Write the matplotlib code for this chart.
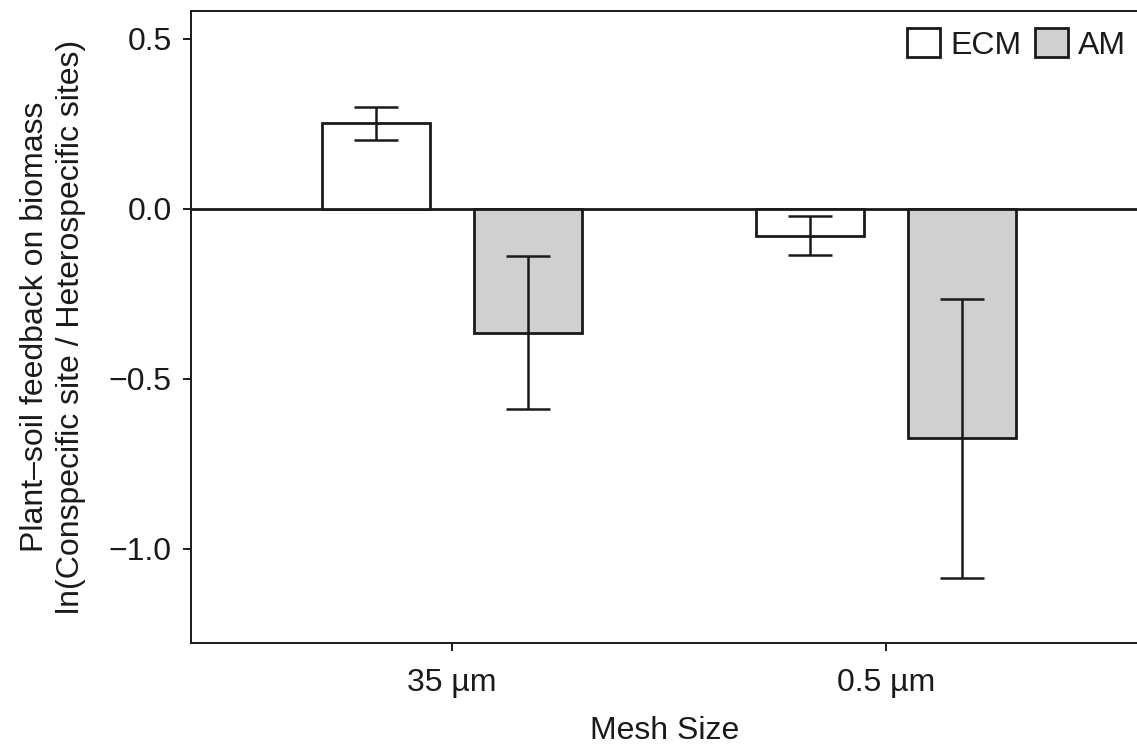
import matplotlib
matplotlib.use("Agg")
import matplotlib.pyplot as plt
import numpy as np

# values
mesh_sizes = ["35 \u00b5m", "0.5 \u00b5m"]
ecm_mean = [0.252, -0.079]
ecm_err = [0.048, 0.058]
am_mean = [-0.364, -0.674]
am_err = [0.225, 0.41]

plt.rcParams['font.family'] = ['Liberation Sans', 'DejaVu Sans']
txt = "#1a1a1a"
fs = 23

fig = plt.figure(figsize=(11.37, 7.46), dpi=100)
ax = fig.add_axes([0.1683, 0.1374, 0.8317, 0.8479])

x = np.arange(1, len(mesh_sizes) + 1)
w = 0.25
off = 0.175

ax.axhline(0, color=txt, lw=2.0, zorder=1)
ax.bar(x - off, ecm_mean, width=w, color="white", edgecolor=txt, linewidth=2.0,
       label="ECM", zorder=2)
ax.bar(x + off, am_mean, width=w, color="#d0d0d0", edgecolor=txt, linewidth=2.0,
       label="AM", zorder=2)
ax.errorbar(x - off, ecm_mean, yerr=ecm_err, fmt="none", ecolor=txt, elinewidth=1.8,
            capsize=15.8, capthick=1.8, zorder=3)
ax.errorbar(x + off, am_mean, yerr=am_err, fmt="none", ecolor=txt, elinewidth=1.8,
            capsize=15.8, capthick=1.8, zorder=3)

ax.set_xlim(0.40, 2.578)
ax.set_ylim(-1.278, 0.582)
ax.set_xticks(x)
ax.set_xticklabels(mesh_sizes)
ax.set_yticks([0.5, 0.0, -0.5, -1.0])
ax.set_yticklabels(["0.5", "0.0", "\u22120.5", "\u22121.0"])

for s in ["left", "bottom", "top"]:
    ax.spines[s].set_linewidth(1.4)
    ax.spines[s].set_color(txt)
ax.spines["right"].set_visible(False)
ax.tick_params(axis="both", direction="out", length=5.5, width=1.4, color=txt,
               labelsize=fs, labelcolor=txt)
ax.tick_params(axis="x", pad=12)
ax.tick_params(axis="y", pad=8.5)

ax.set_xlabel("Mesh Size", size=fs, color=txt)
ax.set_ylabel("Plant\u2013soil feedback on biomass\nln(Conspecific site / Heterospecific sites)",
              size=fs, color=txt, linespacing=1.28)
ax.xaxis.set_label_coords(0.5, -0.115)
ax.yaxis.set_label_coords(-0.111, 0.5)

lg = ax.legend(loc="upper right", bbox_to_anchor=(0.9885, 0.973), ncol=2, frameon=False,
               fontsize=fs, handlelength=1.03, handleheight=1.03, handletextpad=0.33,
               columnspacing=0.4, borderaxespad=0, borderpad=0, labelcolor=txt)

fig.savefig("out.png", dpi=100)
plt.close(fig)
